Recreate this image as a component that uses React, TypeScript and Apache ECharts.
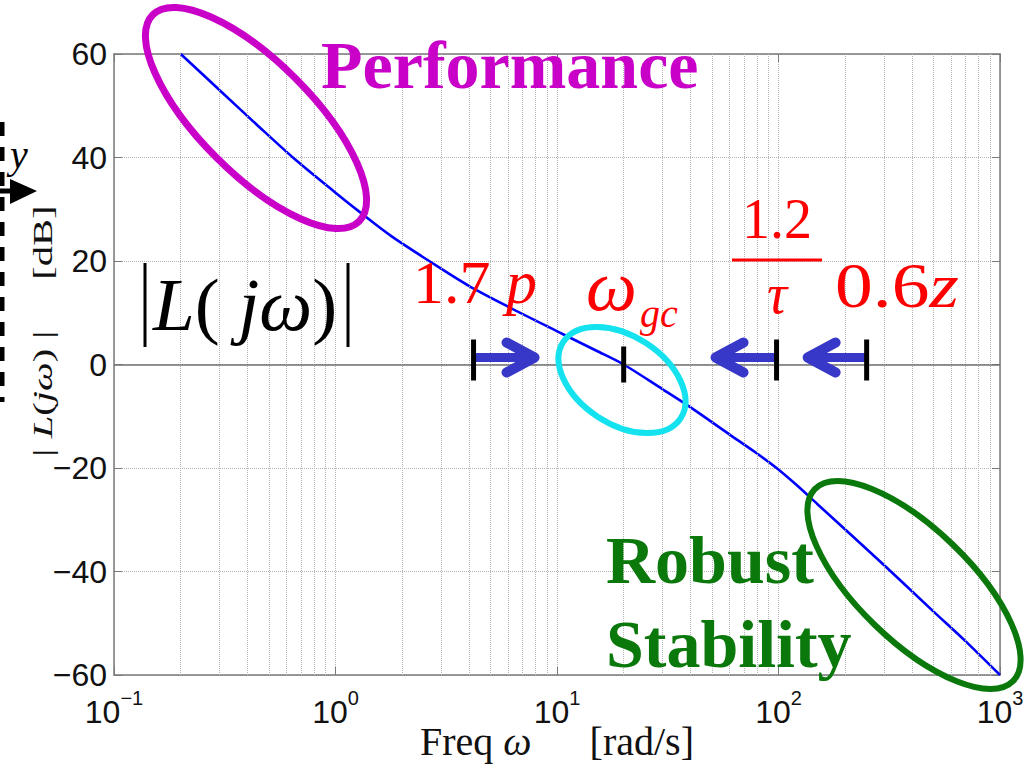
import React, { useEffect, useRef } from 'react';
import * as echarts from 'echarts';

// ---- data ----
const freqRadPerSec = [0.2, 0.3, 0.45, 0.65, 1, 1.31, 1.8, 2.67, 4, 6, 10.6, 15, 20, 30, 39.8, 60, 80, 98, 120, 150, 210, 300, 500, 700, 1000];
const magnitudeDb = [60, 53.0, 46.0, 39.8, 33.2, 29.2, 24.7, 19.9, 15.2, 11.2, 5.9, 2.7, 0, -4.8, -8.2, -13.5, -17.2, -20, -23.2, -27.0, -32.7, -38.8, -47.7, -53.5, -60];
const yTickValues = [-60, -40, -20, 0, 20, 40, 60];
const xDecadeValues = [0.1, 1, 10, 100, 1000];
const xDecadeExponents = ['\u22121', '0', '1', '2', '3'];
const minorMultipliers = [2, 3, 4, 5, 6, 7, 8, 9];
// 1.7p, omega_gc, 1.2/tau, 0.6z
const markerFreqs = [4.2, 20, 98, 250];

const SERIF = "'Liberation Serif', 'DejaVu Serif', serif";
const SANS = "'Liberation Sans', Arial, sans-serif";
const MAGENTA = '#c800c8';
const GREEN = '#0a780a';
const CYAN = '#14e2ee';
const RED = '#ff0000';
const ARROW = '#3737c8';
const deg = Math.PI / 180;

export default function App() {
  const ref = useRef<HTMLDivElement>(null);
  useEffect(() => {
    const el = ref.current!;
    const chart = echarts.init(el, null, { renderer: 'svg' });

    const minorLines: any[] = [];
    xDecadeValues.slice(0, -1).forEach((d) => minorMultipliers.forEach((m) => minorLines.push({ xAxis: +(d * m).toPrecision(3) })));

    const gridDotted = { type: 'dotted', color: '#b5b5b5', width: 1 };
    const axisGray = '#7a7a7a';

    const option: any = {
      animation: false,
      backgroundColor: '#ffffff',
      grid: { left: 114, right: 28, top: 54, bottom: 94, containLabel: false, outerBoundsMode: 'none' },
      xAxis: [
        {
          type: 'log', logBase: 10, min: xDecadeValues[0], max: xDecadeValues[xDecadeValues.length - 1],
          axisLine: { show: true, onZero: false, lineStyle: { color: axisGray, width: 1.5 } },
          axisTick: { show: true, inside: true, length: 8, lineStyle: { color: axisGray } },
          splitLine: { show: true, lineStyle: gridDotted },
          axisLabel: {
            margin: 13,
            formatter: (v: number) => {
              const i = xDecadeValues.findIndex((d) => Math.abs(Math.log10(d) - Math.log10(v)) < 1e-6);
              const e = i >= 0 ? xDecadeExponents[i] : String(Math.round(Math.log10(v)));
              return `{b|10}{s|${e}}`;
            },
            rich: {
              b: { fontSize: 32, fontFamily: SANS, color: '#111', lineHeight: 40, verticalAlign: 'bottom' },
              s: { fontSize: 20, fontFamily: SANS, color: '#111', lineHeight: 12, verticalAlign: 'top' },
            },
          },
          name: '{a|Freq }{w|\u03c9}{r|[rad/s]}',
          nameLocation: 'middle',
          nameGap: 46,
          nameMoveOverlap: false,
          nameTextStyle: {
            rich: {
              a: { fontSize: 40, fontFamily: SERIF, color: '#111' },
              w: { fontSize: 40, fontFamily: SERIF, fontStyle: 'italic', color: '#111' },
              r: { fontSize: 40, fontFamily: SERIF, color: '#111', padding: [0, 0, 0, 58] },
            },
          },
        },
        {
          type: 'log', logBase: 10, min: xDecadeValues[0], max: xDecadeValues[xDecadeValues.length - 1],
          position: 'top',
          axisLine: { show: true, onZero: false, lineStyle: { color: axisGray, width: 1.5 } },
          axisTick: { show: true, inside: true, length: 8, lineStyle: { color: axisGray } },
          axisLabel: { show: false },
          splitLine: { show: false },
        },
      ],
      yAxis: [
        {
          type: 'value', min: yTickValues[0], max: yTickValues[yTickValues.length - 1], interval: 20,
          axisLine: { show: true, onZero: false, lineStyle: { color: axisGray, width: 1.5 } },
          axisTick: { show: true, inside: true, length: 8, lineStyle: { color: axisGray } },
          splitLine: { show: true, lineStyle: gridDotted },
          axisLabel: {
            fontSize: 32, fontFamily: SANS, color: '#111', margin: 7,
            formatter: (v: number) => (v < 0 ? '\u2212' + Math.abs(v) : String(v)),
          },
        },
        {
          type: 'value', min: yTickValues[0], max: yTickValues[yTickValues.length - 1], interval: 20,
          position: 'right',
          axisLine: { show: true, onZero: false, lineStyle: { color: axisGray, width: 1.5 } },
          axisTick: { show: true, inside: true, length: 8, lineStyle: { color: axisGray } },
          axisLabel: { show: false },
          splitLine: { show: false },
        },
      ],
      series: [
        {
          type: 'line',
          name: '|L(j\u03c9)|',
          data: freqRadPerSec.map((f, i) => [f, magnitudeDb[i]]),
          showSymbol: false,
          symbol: 'none',
          smooth: 0.3,
          lineStyle: { color: '#0000ff', width: 2.6 },
          z: 3,
          markLine: {
            silent: true,
            symbol: ['none', 'none'],
            label: { show: false },
            lineStyle: gridDotted,
            data: [
              ...minorLines,
              { yAxis: 0, lineStyle: { type: 'solid', color: '#707070', width: 1.6 } },
            ],
          },
        },
      ],
    };
    chart.setOption(option);

    const px = (f: number) => (chart.convertToPixel({ gridIndex: 0 }, [f, 0]) as number[])[0];
    const zeroY = (chart.convertToPixel({ gridIndex: 0 }, [1, 0]) as number[])[1];
    const mx = markerFreqs.map(px);

    const txt = (x: number, y: number, text: string, s: any, extra: any = {}) => ({
      type: 'text', x, y, z: 20, ...extra,
      style: { text, align: 'left', verticalAlign: 'middle', fontFamily: SERIF, ...s },
    });

    const arrow = (xFrom: number, xTip: number, y: number) => {
      const dir = xTip > xFrom ? 1 : -1;
      return [
        { type: 'line', z: 18, shape: { x1: xFrom, y1: y, x2: xTip - dir * 6, y2: y }, style: { stroke: ARROW, lineWidth: 9 } },
        {
          type: 'polyline', z: 18,
          shape: { points: [[xTip - dir * 33, y - 15], [xTip - dir * 5, y], [xTip - dir * 33, y + 15]] },
          style: { stroke: ARROW, lineWidth: 10, lineCap: 'round', lineJoin: 'round', fill: 'none' },
        },
      ];
    };

    const arrowY = zeroY - 7;
    const graphic: any[] = [
      // cropped block diagram on the left edge
      { type: 'line', z: 20, shape: { x1: 2, y1: 122, x2: 2, y2: 402 }, style: { stroke: '#000', lineWidth: 5, lineDash: [14, 11] } },
      { type: 'line', z: 20, shape: { x1: 0, y1: 191, x2: 14, y2: 191 }, style: { stroke: '#000', lineWidth: 5 } },
      { type: 'polygon', z: 20, shape: { points: [[10, 179], [37, 191], [10, 204]] }, style: { fill: '#000' } },
      txt(10, 154, 'y', { fontSize: 40, fontStyle: 'italic', fill: '#000' }),
      // y axis title
      {
        type: 'text', x: 43, y: 331, rotation: Math.PI / 2, scaleX: 1.45, z: 20,
        style: {
          text: '{t|| }{i|L}{t|(}{i|j\u03c9}{t|) |     [dB]}',
          align: 'center', verticalAlign: 'middle',
          rich: {
            t: { fontSize: 28, fontFamily: SERIF, fill: '#111' },
            i: { fontSize: 28, fontFamily: SERIF, fontStyle: 'italic', fill: '#111' },
          },
        },
      },
      // ellipses
      { type: 'ellipse', x: 256, y: 118, rotation: -45 * deg, z: 15, shape: { cx: 0, cy: 0, rx: 146, ry: 56 }, style: { fill: 'none', stroke: MAGENTA, lineWidth: 7 } },
      { type: 'ellipse', x: 622, y: 380, rotation: -33 * deg, z: 15, shape: { cx: 0, cy: 0, rx: 70, ry: 44 }, style: { fill: 'none', stroke: CYAN, lineWidth: 6 } },
      { type: 'ellipse', x: 914, y: 585, rotation: -44 * deg, z: 15, shape: { cx: 0, cy: 0, rx: 138, ry: 56 }, style: { fill: 'none', stroke: GREEN, lineWidth: 6 } },
      // labels
      txt(321, 65, 'Performance', { fontSize: 68, fontWeight: 'bold', fill: MAGENTA }),
      txt(606, 560, 'Robust', { fontSize: 68, fontWeight: 'bold', fill: GREEN }),
      txt(606, 644, 'Stability', { fontSize: 68, fontWeight: 'bold', fill: GREEN }),
      {
        type: 'text', x: 153, y: 304, z: 20,
        style: {
          text: '{i|L}{r|(}{i| j\u03c9}{r|)}', align: 'left', verticalAlign: 'middle',
          rich: {
            i: { fontSize: 75, fontFamily: SERIF, fontStyle: 'italic', fill: '#000' },
            r: { fontSize: 75, fontFamily: SERIF, fill: '#000' },
          },
        },
      },
      { type: 'line', z: 20, shape: { x1: 145, y1: 263, x2: 145, y2: 347 }, style: { stroke: '#000', lineWidth: 3 } },
      { type: 'line', z: 20, shape: { x1: 348, y1: 263, x2: 348, y2: 347 }, style: { stroke: '#000', lineWidth: 3 } },
      {
        type: 'text', x: 413, y: 282, z: 20,
        style: {
          text: '{n|1.7}{i| p}', align: 'left', verticalAlign: 'middle',
          rich: {
            n: { fontSize: 62, fontFamily: SERIF, fill: RED },
            i: { fontSize: 62, fontFamily: SERIF, fontStyle: 'italic', fill: RED },
          },
        },
      },
      txt(586, 286, '\u03c9', { fontSize: 72, fontStyle: 'italic', fill: RED }),
      txt(640, 313, 'gc', { fontSize: 40, fontStyle: 'italic', fill: RED }),
      txt(777, 219, '1.2', { fontSize: 56, fill: RED, align: 'center' }),
      { type: 'line', z: 20, shape: { x1: 732, y1: 260, x2: 822, y2: 260 }, style: { stroke: RED, lineWidth: 3 } },
      txt(777, 294, '\u03c4', { fontSize: 56, fontStyle: 'italic', fill: RED, align: 'center' }),
      {
        type: 'text', x: 835, y: 286, z: 20, scaleX: 1.18,
        style: {
          text: '{n|0.6}{i|z}', align: 'left', verticalAlign: 'middle',
          rich: {
            n: { fontSize: 64, fontFamily: SERIF, fill: RED },
            i: { fontSize: 64, fontFamily: SERIF, fontStyle: 'italic', fill: RED },
          },
        },
      },
      // arrows
      ...arrow(mx[0], mx[0] + 66, arrowY),
      ...arrow(mx[2], mx[2] - 66, arrowY),
      ...arrow(mx[3], mx[3] - 64, arrowY),
      // black frequency markers
      ...mx.map((x, i) => ({
        type: 'line', z: 19,
        shape: { x1: x, y1: i === 1 ? zeroY - 18 : zeroY - 25, x2: x, y2: i === 1 ? zeroY + 18 : zeroY + 16 },
        style: { stroke: '#000', lineWidth: 5 },
      })),
    ];
    chart.setOption({ graphic });

    return () => chart.dispose();
  }, []);
  return <div ref={ref} style={{ position: 'fixed', left: 0, top: 0, width: 1028, height: 769, background: '#fff' }} />;
}
